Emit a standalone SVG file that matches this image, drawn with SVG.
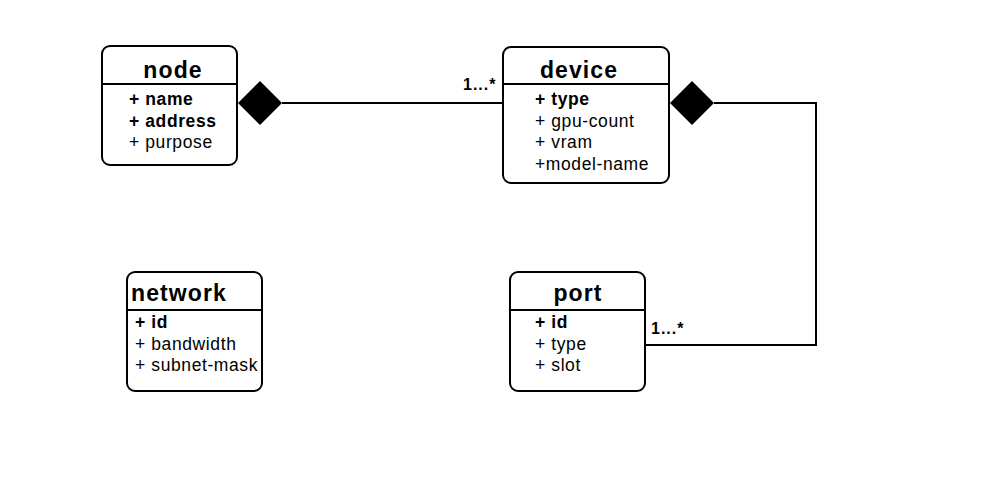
<svg xmlns="http://www.w3.org/2000/svg" width="1000" height="500" viewBox="0 0 1000 500">
<style>
.box{fill:#fff;stroke:#000;stroke-width:2}
.div{stroke:#000;stroke-width:2}
.t{font-family:"Liberation Sans",Arial,sans-serif;font-weight:bold;font-size:23px;letter-spacing:1.1px;fill:#000}
.a{font-family:"Liberation Sans",Arial,sans-serif;font-size:17.5px;letter-spacing:0.6px;fill:#000}
.b{font-weight:bold}
.m{font-family:"Liberation Sans",Arial,sans-serif;font-weight:bold;font-size:16px;letter-spacing:1px;fill:#000}
.ln{fill:none;stroke:#000;stroke-width:2}
</style>
<rect width="1000" height="500" fill="#fff"/>
<g id="connectors">
<path class="ln" d="M282 103 H503"/>
<polygon points="238,103 260,81 282,103 260,125" fill="#000"/>
<path class="ln" d="M714 103 H816 V345 H646"/>
<polygon points="670,103 692,81 714,103 692,125" fill="#000"/>
<text class="m" x="463" y="90">1...*</text>
<text class="m" x="651" y="334">1...*</text>
</g>
<g id="node">
<rect class="box" x="102" y="46" width="135" height="119" rx="8"/>
<line class="div" x1="102" y1="84" x2="237" y2="84"/>
<text class="t" x="173" y="78" text-anchor="middle">node</text>
<text class="a b" x="129" y="105">+ name</text>
<text class="a b" x="129" y="127">+ address</text>
<text class="a" x="129" y="148">+ purpose</text>
</g>
<g id="device">
<rect class="box" x="503" y="47" width="166" height="136" rx="8"/>
<line class="div" x1="503" y1="84" x2="669" y2="84"/>
<text class="t" x="579" y="78" text-anchor="middle">device</text>
<text class="a b" x="535" y="105">+ type</text>
<text class="a" x="535" y="127">+ gpu-count</text>
<text class="a" x="535" y="148">+ vram</text>
<text class="a" x="535" y="170">+model-name</text>
</g>
<g id="network">
<rect class="box" x="127" y="272" width="135" height="119" rx="8"/>
<line class="div" x1="127" y1="310" x2="262" y2="310"/>
<text class="t" x="131" y="301">network</text>
<text class="a b" x="135" y="328">+ id</text>
<text class="a" x="135" y="350">+ bandwidth</text>
<text class="a" x="135" y="371">+ subnet-mask</text>
</g>
<g id="port">
<rect class="box" x="510" y="272" width="135" height="119" rx="8"/>
<line class="div" x1="510" y1="310" x2="645" y2="310"/>
<text class="t" x="578" y="301" text-anchor="middle">port</text>
<text class="a b" x="535" y="328">+ id</text>
<text class="a" x="535" y="350">+ type</text>
<text class="a" x="535" y="371">+ slot</text>
</g>
</svg>
